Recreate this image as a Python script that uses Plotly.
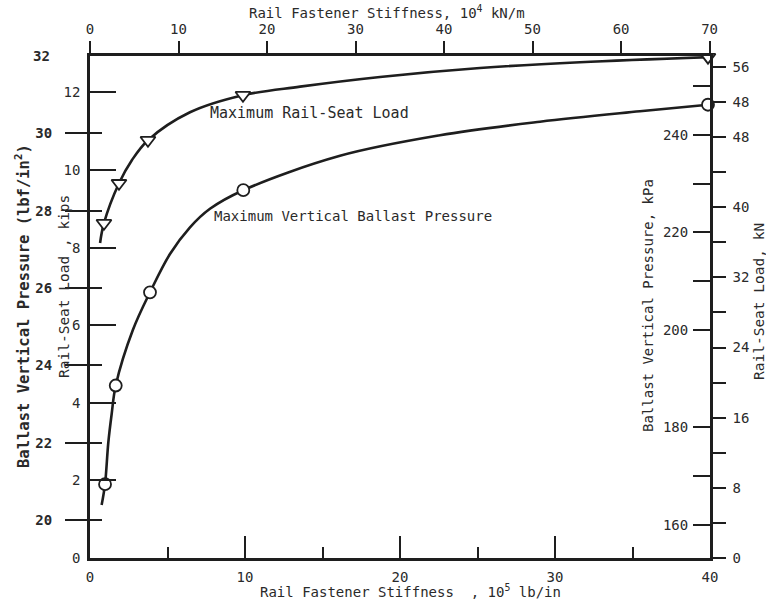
import plotly.graph_objects as go

# ---------------- data ----------------
# stiffness in 10^5 lb/in
rsl_stiffness = [0.9, 1.87, 3.74, 9.87, 39.87]
rsl_kips = [8.63, 9.66, 10.77, 11.93, 12.91]
bvp_stiffness = [0.97, 1.66, 3.87, 9.89, 39.87]
bvp_psi = [20.93, 23.48, 25.89, 28.53, 30.74]

# traced curve points
rsl_curve_x = [0.65, 0.9, 1.87, 2.71, 3.74, 6.45, 9.87, 13.55, 18.71, 25.16, 31.61, 39.87]
rsl_curve_y = [8.12, 8.63, 9.66, 10.26, 10.77, 11.49, 11.93, 12.15, 12.40, 12.63, 12.78, 12.91]
bvp_curve_x = [0.75, 0.97, 1.18, 1.40, 1.66, 2.77, 3.87, 5.16, 6.45,
               7.74, 9.89, 16.13, 22.58, 29.03, 35.48, 39.87]
bvp_curve_y = [20.39, 20.93, 22.0, 22.75, 23.48, 24.92, 25.89, 26.88, 27.57,
               28.05, 28.53, 29.42, 29.95, 30.30, 30.57, 30.74]

# tick labels
bottom_ticks = [0, 10, 20, 30, 40]
bottom_minor = [5, 15, 25, 35]
top_ticks = [0, 10, 20, 30, 40, 50, 60, 70]
psi_ticks = [20, 22, 24, 26, 28, 30]
kips_ticks = [0, 2, 4, 6, 8, 10, 12]
kn_ticks = [0, 8, 16, 24, 32, 40, 48, 52, 56]
kn_text = ["0", "8", "16", "24", "32", "40", "48", "48", "56"]
kn_minor = [4, 12, 20, 28, 36, 44]
kpa_ticks = [160, 180, 200, 220, 240]
kpa_minor = [170, 210, 230, 250]

INK = "#1e1e1e"
TXT = "#2a2a2a"
FONT = "DejaVu Sans Mono"

fig = go.Figure()
fig.add_trace(go.Scatter(x=rsl_curve_x, y=rsl_curve_y, mode="lines",
                         line=dict(color=INK, width=2.6, shape="spline", smoothing=1.0),
                         xaxis="x", yaxis="y", showlegend=False, hoverinfo="skip"))
fig.add_trace(go.Scatter(x=bvp_curve_x, y=bvp_curve_y, mode="lines",
                         line=dict(color=INK, width=2.6, shape="spline", smoothing=1.0),
                         xaxis="x", yaxis="y2", showlegend=False, hoverinfo="skip"))
fig.add_trace(go.Scatter(x=rsl_stiffness, y=rsl_kips, mode="markers", cliponaxis=False,
                         marker=dict(symbol="triangle-down", size=13, color="white",
                                     line=dict(color=INK, width=1.8)),
                         xaxis="x", yaxis="y", showlegend=False))
fig.add_trace(go.Scatter(x=bvp_stiffness, y=bvp_psi, mode="markers", cliponaxis=False,
                         marker=dict(symbol="circle", size=12, color="white",
                                     line=dict(color=INK, width=1.8)),
                         xaxis="x", yaxis="y2", showlegend=False))
# empty traces so that the secondary scales are drawn
for xa, ya in [("x2", "y"), ("x", "y3"), ("x", "y4"), ("x", "y5")]:
    fig.add_trace(go.Scatter(x=[], y=[], mode="markers", xaxis=xa, yaxis=ya,
                             showlegend=False, hoverinfo="skip"))

tickfont = dict(family=FONT, size=14, color=TXT)
boldfont = dict(family=FONT, size=14, color=TXT, weight="bold")
common = dict(showgrid=False, zeroline=False, tickcolor=INK, tickwidth=2)

fig.update_layout(
    width=766, height=606,
    margin=dict(l=90, r=56, t=56, b=48),
    paper_bgcolor="white", plot_bgcolor="white",
    showlegend=False,
    xaxis=dict(domain=[0, 1], range=[0, 40], anchor="y", showline=True, linewidth=2.5,
               linecolor=INK, ticks="inside", ticklen=22, tickmode="array",
               tickvals=bottom_ticks, ticklabelstandoff=4, tickfont=tickfont,
               minor=dict(tickmode="array", tickvals=bottom_minor, ticks="inside",
                          ticklen=11, tickwidth=2, tickcolor=INK), **common),
    xaxis2=dict(overlaying="x", side="top", anchor="y", range=[0, 70.05],
                showline=True, linewidth=2.5, linecolor=INK, ticks="outside",
                ticklen=12, tickmode="array", tickvals=top_ticks, tickfont=tickfont,
                ticklabelstandoff=2, **common),
    yaxis=dict(domain=[0, 1], range=[0, 12.94], anchor="x", side="left",
               showline=True, linewidth=2.5, linecolor=INK, ticks="inside",
               ticklen=26, tickmode="array", tickvals=kips_ticks, ticklabelstandoff=4,
               tickfont=tickfont, **common),
    yaxis2=dict(overlaying="y", range=[19.02, 32.0], anchor="x", side="left",
                showline=False, ticks="outside", ticklen=24, tickmode="array",
                tickvals=psi_ticks, ticklabelstandoff=10, tickfont=boldfont, **common),
    yaxis3=dict(overlaying="y", range=[19.02, 32.0], anchor="x", side="left",
                showline=False, ticks="inside", ticklen=12, tickmode="array",
                tickvals=psi_ticks, showticklabels=False, **common),
    yaxis4=dict(overlaying="y", range=[0, 57.25], anchor="x", side="right",
                showline=True, linewidth=2.5, linecolor=INK, ticks="outside",
                ticklen=13, tickmode="array", tickvals=kn_ticks, ticktext=kn_text,
                ticklabelstandoff=4, tickfont=tickfont,
                minor=dict(tickmode="array", tickvals=kn_minor, ticks="outside",
                           ticklen=13, tickwidth=2, tickcolor=INK), **common),
    yaxis5=dict(overlaying="y", range=[153.2, 256.2], anchor="free", position=1.0,
                side="left", showline=False, ticks="outside", ticklen=17,
                tickmode="array", tickvals=kpa_ticks, tickfont=tickfont,
                ticklabelstandoff=2,
                minor=dict(tickmode="array", tickvals=kpa_minor, ticks="outside",
                           ticklen=17, tickwidth=2, tickcolor=INK), **common),
)

def px2paper(px, py):
    return (px - 90) / 620.0, (558 - py) / 502.0

def add_text(text, px, py, size=14, angle=0, xanchor="center", yanchor="middle", weight="normal"):
    x, y = px2paper(px, py)
    fig.add_annotation(text=text, x=x, y=y, xref="paper", yref="paper", showarrow=False,
                       textangle=angle, xanchor=xanchor, yanchor=yanchor,
                       font=dict(family=FONT, size=size, color=TXT, weight=weight))

add_text("Ballast Vertical Pressure (lbf/in<sup>2</sup>)", 22, 306, size=15.5, angle=-90, weight="bold")
add_text("Rail-Seat Load , kips", 64, 287, size=14.5, angle=-90)
add_text("Ballast Vertical Pressure, kPa", 648, 306, size=14, angle=-90)
add_text("Rail-Seat Load, kN", 759, 302, size=14.5, angle=-90)
add_text("Rail Fastener Stiffness, 10<sup>4</sup> kN/m", 387, 12, size=14)
add_text("Rail Fastener Stiffness  , 10<sup>5</sup> lb/in", 410, 591, size=14)
add_text("32", 52, 56, size=14, xanchor="right", weight="bold")

# curve labels in data coordinates
fig.add_annotation(text="Maximum Rail-Seat Load", x=7.6, y=11.47, xref="x", yref="y",
                   showarrow=False, xanchor="left", yanchor="middle",
                   font=dict(family=FONT, size=15, color=TXT))
fig.add_annotation(text="Maximum Vertical Ballast Pressure", x=7.85, y=27.87, xref="x", yref="y2",
                   showarrow=False, xanchor="left", yanchor="middle",
                   font=dict(family=FONT, size=14, color=TXT))

fig.write_html("out.html")
